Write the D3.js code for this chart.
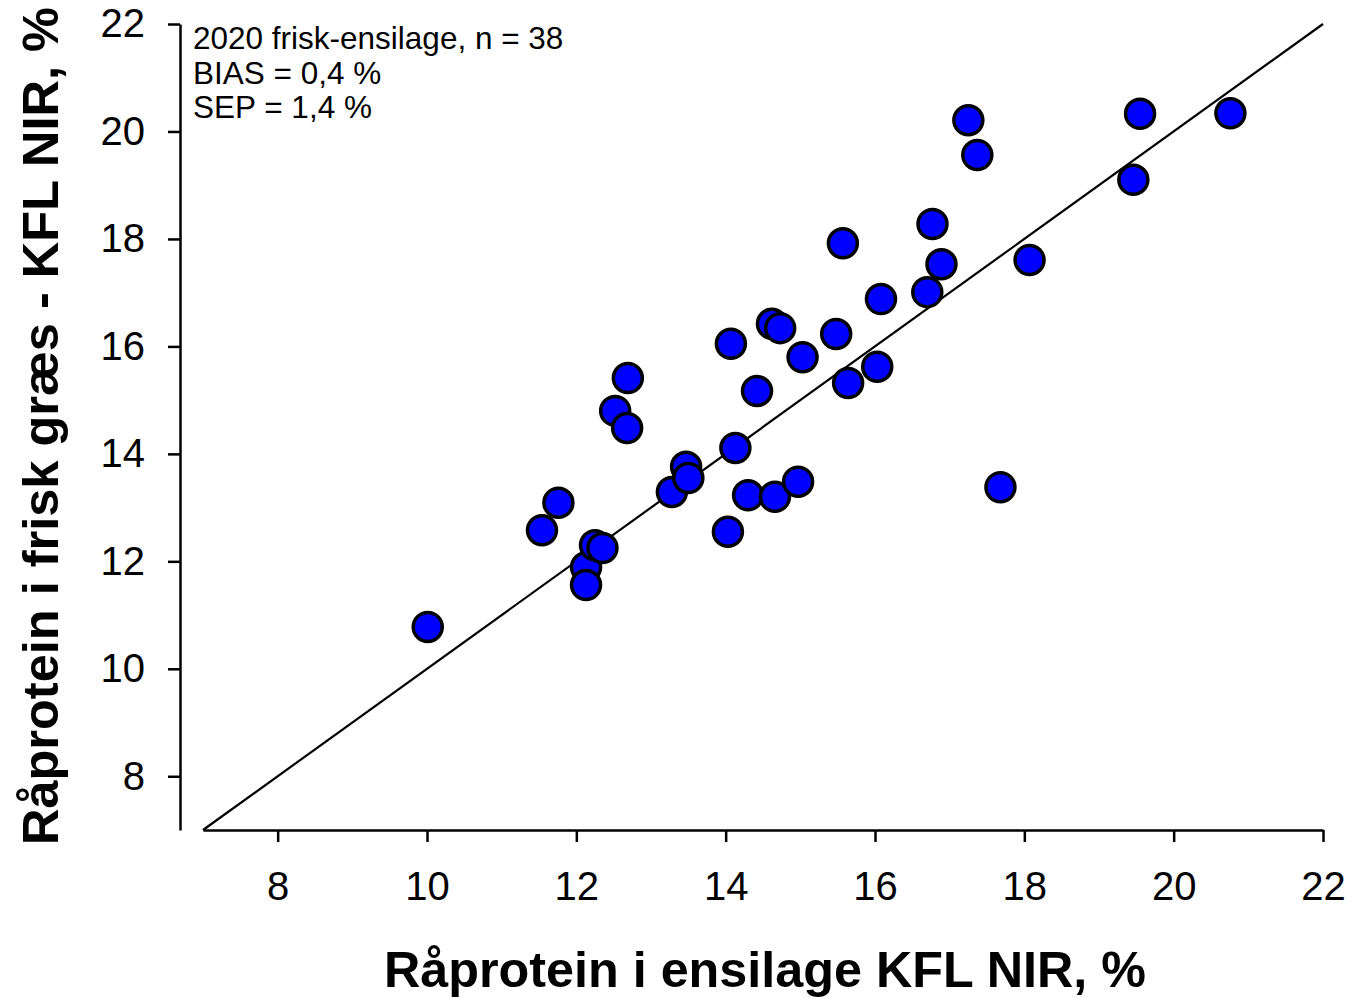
<!DOCTYPE html>
<html><head><meta charset="utf-8">
<script src="https://cdn.jsdelivr.net/npm/d3@7"></script>
<style>body{margin:0;background:#fff}svg{display:block}text{font-family:"Liberation Sans",Arial,sans-serif}</style>
</head><body><svg id="c" width="1353" height="998"></svg>
<script>
const xVals = [10.01,11.54,11.76,12.13,12.13,12.25,12.35,12.52,12.68,12.69,13.28,13.47,13.50,14.03,14.07,14.13,14.30,14.42,14.62,14.73,14.66,14.97,15.03,15.48,15.57,15.64,16.03,16.08,16.70,16.77,16.89,17.25,17.37,17.68,18.07,19.46,19.55,20.76];
const yVals = [10.78,12.58,13.09,11.89,11.56,12.30,12.25,14.80,14.48,15.41,13.29,13.76,13.55,12.55,16.05,14.11,13.23,15.17,16.42,16.34,13.20,13.48,15.80,16.23,17.92,15.32,15.62,16.88,17.01,18.28,17.53,20.21,19.56,13.38,17.61,19.10,20.33,20.34];
const tickVals = [8,10,12,14,16,18,20,22];
const lineEnds = [7,22];
const annotation = ["2020 frisk-ensilage, n = 38","BIAS = 0,4 %","SEP = 1,4 %"];
const xTitle = "Råprotein i ensilage KFL NIR, %";
const yTitle = "Råprotein i frisk græs - KFL NIR, %";

const svg = d3.select("#c");
const x = d3.scaleLinear().domain([7,22]).range([203,1323]);
const y = d3.scaleLinear().domain([7,22]).range([830,24]);

// x axis
const gx = svg.append("g").attr("transform","translate(0,830)")
  .call(d3.axisBottom(x).tickValues(tickVals).tickSize(12).tickSizeOuter(0).tickPadding(30));
gx.select(".domain").attr("stroke","#000").attr("stroke-width",2.5);
gx.selectAll(".tick line").attr("stroke","#000").attr("stroke-width",2.5);
gx.selectAll(".tick text").attr("font-size",40).attr("fill","#000").attr("font-family","'Liberation Sans',Arial,sans-serif");

// y axis (offset left)
const gy = svg.append("g").attr("transform","translate(180,0)")
  .call(d3.axisLeft(y).tickValues(tickVals).tickSize(12).tickSizeOuter(0).tickPadding(23));
gy.select(".domain").attr("stroke","#000").attr("stroke-width",2.5);
gy.selectAll(".tick line").attr("stroke","#000").attr("stroke-width",2.5);
gy.selectAll(".tick text").attr("font-size",40).attr("fill","#000").attr("font-family","'Liberation Sans',Arial,sans-serif");

// 1:1 line
svg.append("line").attr("x1",x(lineEnds[0])).attr("y1",y(lineEnds[0]))
  .attr("x2",x(lineEnds[1])).attr("y2",y(lineEnds[1]))
  .attr("stroke","#000").attr("stroke-width",2.2);

// points
svg.append("g").selectAll("circle").data(xVals.map((v,i)=>[v,yVals[i]])).join("circle")
  .attr("cx",d=>x(d[0])).attr("cy",d=>y(d[1])).attr("r",14.5)
  .attr("fill","#0000ff").attr("stroke","#000").attr("stroke-width",3.5);

// annotation
svg.append("g").selectAll("text").data(annotation).join("text")
  .attr("x",193).attr("y",(d,i)=>49+i*34.5).attr("font-size",31.5).attr("fill","#000").text(d=>d);

// titles
svg.append("text").attr("x",765).attr("y",987).attr("text-anchor","middle")
  .attr("font-size",50.3).attr("font-weight","bold").attr("fill","#000").text(xTitle);
svg.append("text").attr("transform","translate(58,426) rotate(-90)").attr("text-anchor","middle")
  .attr("font-size",50.5).attr("font-weight","bold").attr("fill","#000").text(yTitle);
</script></body></html>
